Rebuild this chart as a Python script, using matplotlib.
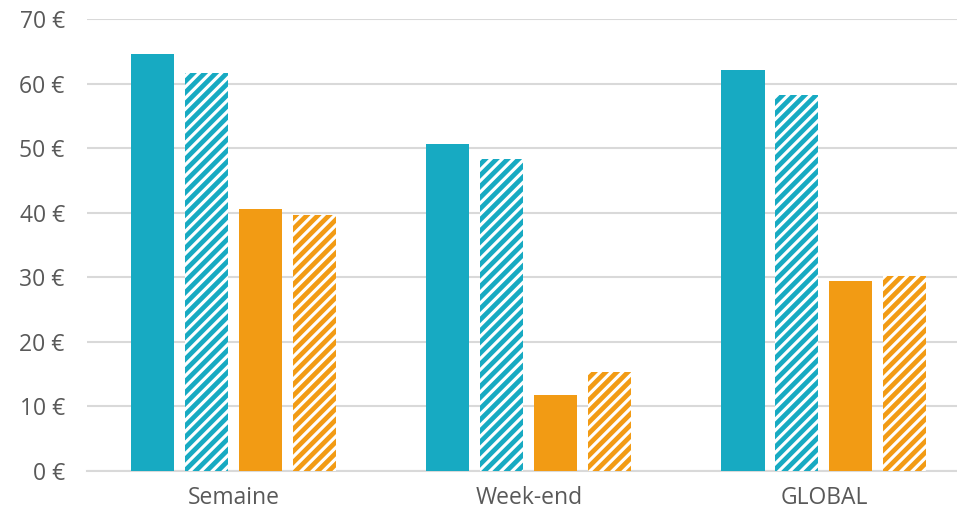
import matplotlib.pyplot as plt
import numpy as np

# Données (en euros)
categories = ["Semaine", "Week-end", "GLOBAL"]
teal_solid = [64.6, 50.6, 62.1]
teal_hatch = [61.6, 48.3, 58.2]
orange_solid = [40.6, 11.8, 29.4]
orange_hatch = [39.6, 15.3, 30.2]
y_ticks = [0, 10, 20, 30, 40, 50, 60, 70]

TEAL = "#17AAC2"
ORANGE = "#F29B14"

plt.rcParams["font.family"] = ["Open Sans", "DejaVu Sans"]
plt.rcParams["hatch.linewidth"] = 3.4

fig = plt.figure(figsize=(9.57, 5.15), dpi=100)
ax = fig.add_axes([87 / 957, 1 - 471 / 515, 1 - 87 / 957, (471 - 19) / 515])

x = np.arange(len(categories))
w = 0.146
step = 0.183

ax.bar(x - 1.5 * step, teal_solid, w, color=TEAL, zorder=3)
ax.bar(x - 0.5 * step, teal_hatch, w, facecolor="white", edgecolor=TEAL,
       hatch="///", linewidth=0, zorder=3)
ax.bar(x + 0.5 * step, orange_solid, w, color=ORANGE, zorder=3)
ax.bar(x + 1.5 * step, orange_hatch, w, facecolor="white", edgecolor=ORANGE,
       hatch="///", linewidth=0, zorder=3)

ax.set_xlim(-0.498, 2.451)
ax.set_ylim(0, 70)
ax.set_yticks(y_ticks)
ax.set_yticklabels([f"{v} €" for v in y_ticks])
ax.set_xticks(x)
ax.set_xticklabels(categories)

ax.grid(axis="y", color="#D9D9D9", linewidth=1.5, zorder=0)
for s in ["top", "right", "left"]:
    ax.spines[s].set_visible(False)
ax.spines["bottom"].set_color("#D9D9D9")
ax.spines["bottom"].set_linewidth(1.5)
ax.tick_params(axis="both", length=0, labelsize=16.5, colors="#595959")
ax.tick_params(axis="y", pad=16)
ax.tick_params(axis="x", pad=11)

fig.savefig("out.png", dpi=100)
plt.close(fig)
